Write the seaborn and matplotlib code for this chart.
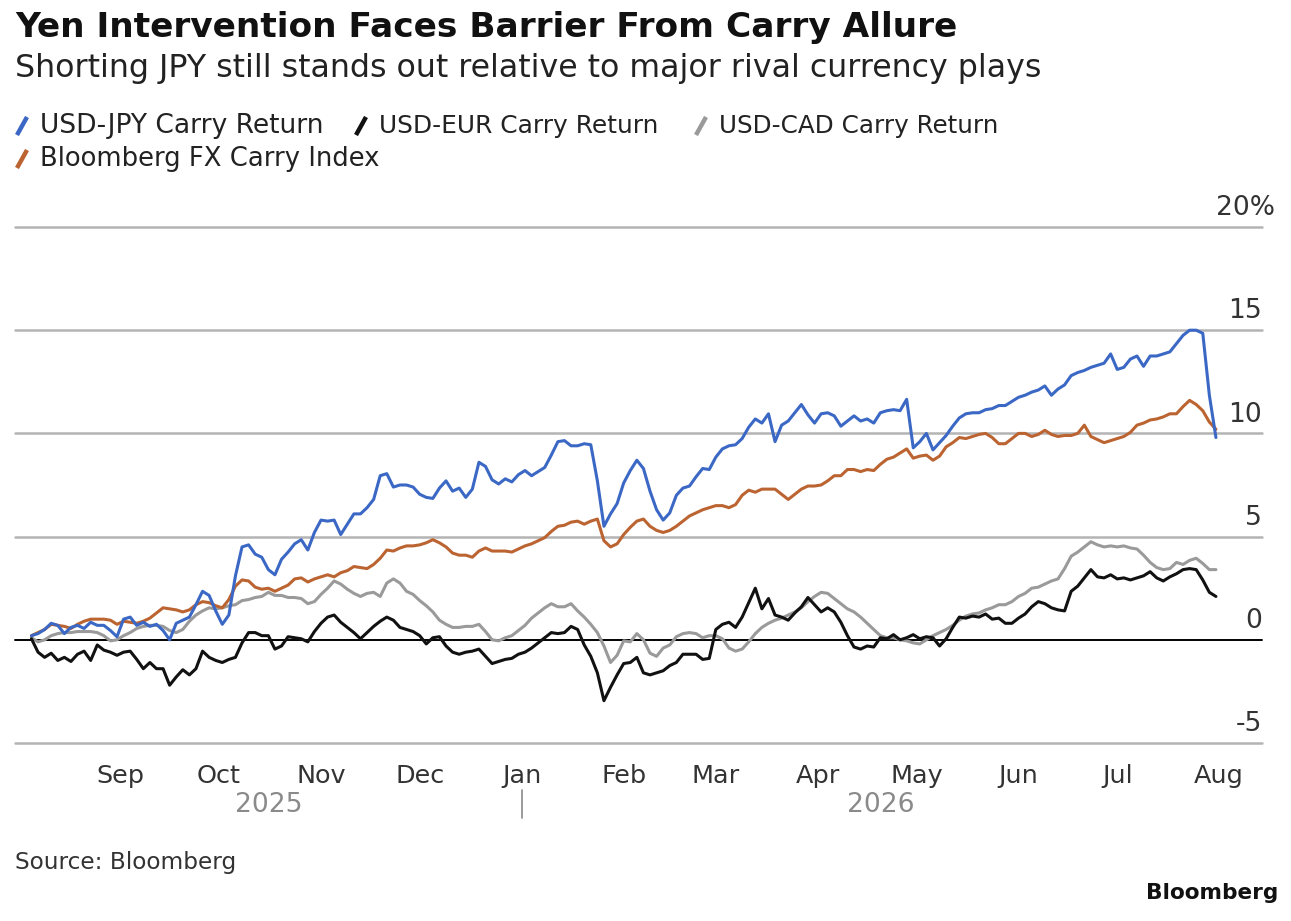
import numpy as np
import pandas as pd
import matplotlib
matplotlib.use("Agg")
import matplotlib.pyplot as plt
import seaborn as sns
from matplotlib.lines import Line2D
from matplotlib.transforms import blended_transform_factory

# ---------------- data (every 2 days) ----------------
dates = pd.date_range("2025-08-05", periods=181, freq="2D")

usd_jpy = [0.2, 0.3, 0.5, 0.8, 0.7, 0.3, 0.6, 0.7, 0.55, 0.85,
           0.7, 0.7, 0.45, 0.15, 1.0, 1.1, 0.7, 0.85, 0.65, 0.75,
           0.45, 0.0, 0.8, 0.95, 1.1, 1.7, 2.35, 2.15, 1.4, 0.75,
           1.2, 3.1, 4.5, 4.6, 4.15, 4.0,
           3.4, 3.15, 3.9, 4.25, 4.65, 4.85, 4.35, 5.2, 5.8, 5.75,
           5.8, 5.1, 5.6, 6.1, 6.1, 6.4, 6.8, 7.95, 8.05, 7.4,
           7.5, 7.5, 7.4, 7.05, 6.9, 6.85, 7.35, 7.7, 7.2, 7.35,
           6.9, 7.3, 8.6, 8.4, 7.75, 7.55,
           7.8, 7.65, 8.0, 8.2, 7.95, 8.15, 8.35, 8.95, 9.6, 9.65,
           9.4, 9.4, 9.5, 9.45, 7.7, 5.5, 6.1, 6.6, 7.6, 8.2,
           8.7, 8.3, 7.2, 6.3, 5.8, 6.15, 7.0, 7.35, 7.45, 7.9,
           8.3, 8.25, 8.85, 9.25, 9.4, 9.45,
           9.75, 10.3, 10.7, 10.5, 10.95, 9.6, 10.4, 10.6, 11.0, 11.4,
           10.9, 10.5, 10.95, 11.0, 10.85, 10.35, 10.6, 10.85, 10.6, 10.7,
           10.5, 11.0, 11.1, 11.15, 11.1, 11.65, 9.3, 9.6, 10.0, 9.2,
           9.55, 9.9, 10.35, 10.75, 10.95, 11.0,
           11.0, 11.15, 11.2, 11.35, 11.35, 11.55, 11.75, 11.85, 12.0, 12.1,
           12.3, 11.85, 12.15, 12.35, 12.8, 12.95, 13.05, 13.2, 13.3, 13.4,
           13.85, 13.1, 13.2, 13.6, 13.75, 13.25, 13.75, 13.75, 13.85, 13.95,
           14.35, 14.75, 15.0, 15.0, 14.85, 11.85, 9.8]

usd_eur = [0.05, -0.6, -0.85, -0.65, -1.0, -0.85, -1.05, -0.7, -0.55, -1.0,
           -0.25, -0.5, -0.6, -0.75, -0.6, -0.55, -0.95, -1.4, -1.1, -1.4,
           -1.4, -2.2, -1.8, -1.45, -1.7, -1.4, -0.55, -0.85, -1.0, -1.1,
           -0.95, -0.85, -0.15, 0.35, 0.35, 0.2,
           0.2, -0.45, -0.3, 0.15, 0.1, 0.05, -0.1, 0.4, 0.8, 1.1,
           1.2, 0.85, 0.6, 0.35, 0.05, 0.35, 0.65, 0.9, 1.1, 0.95,
           0.6, 0.5, 0.4, 0.2, -0.2, 0.1, 0.15, -0.3, -0.6, -0.7,
           -0.6, -0.55, -0.45, -0.8, -1.15, -1.05,
           -0.95, -0.9, -0.7, -0.6, -0.4, -0.15, 0.1, 0.35, 0.3, 0.35,
           0.65, 0.5, -0.25, -0.8, -1.6, -2.95, -2.3, -1.7, -1.15, -1.1,
           -0.85, -1.6, -1.7, -1.6, -1.5, -1.25, -1.1, -0.7, -0.7, -0.7,
           -0.95, -0.9, 0.5, 0.75, 0.85, 0.6,
           1.1, 1.8, 2.5, 1.5, 2.0, 1.2, 1.1, 0.95, 1.3, 1.6,
           2.05, 1.7, 1.35, 1.55, 1.35, 0.85, 0.2, -0.35, -0.45, -0.3,
           -0.35, 0.1, 0.05, 0.25, 0.0, 0.1, 0.25, 0.05, 0.15, 0.1,
           -0.3, 0.05, 0.6, 1.1, 1.05, 1.15,
           1.1, 1.25, 1.0, 1.05, 0.8, 0.8, 1.05, 1.25, 1.6, 1.85,
           1.75, 1.55, 1.45, 1.4, 2.35, 2.6, 3.0, 3.4, 3.05, 3.0,
           3.15, 2.95, 3.0, 2.9, 3.0, 3.1, 3.3, 3.0, 2.85, 3.05,
           3.2, 3.4, 3.45, 3.4, 2.9, 2.3, 2.1]

usd_cad = [0.1, -0.1, 0.0, 0.2, 0.3, 0.35, 0.35, 0.4, 0.4, 0.4,
           0.35, 0.2, -0.05, 0.0, 0.2, 0.35, 0.55, 0.65, 0.7, 0.7,
           0.65, 0.45, 0.35, 0.5, 0.9, 1.2, 1.4, 1.55, 1.5, 1.55,
           1.65, 1.7, 1.9, 1.95, 2.05, 2.1,
           2.3, 2.15, 2.15, 2.05, 2.05, 2.0, 1.75, 1.85, 2.2, 2.5,
           2.85, 2.7, 2.45, 2.25, 2.1, 2.25, 2.3, 2.1, 2.75, 2.95,
           2.75, 2.35, 2.2, 1.9, 1.65, 1.35, 0.95, 0.75, 0.6, 0.6,
           0.65, 0.65, 0.75, 0.4, 0.0, -0.05,
           0.1, 0.2, 0.45, 0.7, 1.05, 1.3, 1.55, 1.75, 1.6, 1.6,
           1.75, 1.4, 1.1, 0.75, 0.35, -0.3, -1.1, -0.75, -0.05, -0.1,
           0.3, 0.0, -0.65, -0.8, -0.4, -0.25, 0.15, 0.3, 0.35, 0.3,
           0.1, 0.2, 0.2, 0.05, -0.4, -0.55,
           -0.45, -0.1, 0.3, 0.6, 0.8, 0.95, 1.05, 1.2, 1.35, 1.55,
           1.85, 2.1, 2.3, 2.25, 2.0, 1.75, 1.5, 1.35, 1.1, 0.8,
           0.5, 0.2, 0.1, 0.1, 0.0, -0.05, -0.15, -0.2, 0.0, 0.2,
           0.35, 0.5, 0.7, 0.95, 1.15, 1.25,
           1.3, 1.45, 1.55, 1.7, 1.7, 1.85, 2.1, 2.25, 2.5, 2.55,
           2.7, 2.85, 2.95, 3.45, 4.05, 4.25, 4.5, 4.75, 4.6, 4.5,
           4.55, 4.5, 4.55, 4.45, 4.4, 4.1, 3.75, 3.5, 3.4, 3.45,
           3.75, 3.65, 3.85, 3.95, 3.7, 3.4, 3.4]

bbg_fx_carry = [0.2, 0.35, 0.5, 0.75, 0.7, 0.65, 0.55, 0.75, 0.9, 1.0,
                1.0, 1.0, 0.95, 0.75, 0.9, 0.85, 0.8, 0.9, 1.05, 1.3,
                1.55, 1.5, 1.45, 1.35, 1.45, 1.7, 1.85, 1.8, 1.65, 1.55,
                1.95, 2.6, 2.9, 2.85, 2.55, 2.45,
                2.5, 2.35, 2.5, 2.65, 2.95, 3.0, 2.8, 2.95, 3.05, 3.15,
                3.05, 3.25, 3.35, 3.55, 3.5, 3.45, 3.65, 3.95, 4.35, 4.3,
                4.45, 4.55, 4.55, 4.6, 4.7, 4.85, 4.7, 4.5, 4.2, 4.1,
                4.1, 4.0, 4.3, 4.45, 4.3, 4.3,
                4.3, 4.25, 4.4, 4.55, 4.65, 4.8, 4.95, 5.25, 5.5, 5.55,
                5.7, 5.75, 5.6, 5.75, 5.85, 4.8, 4.5, 4.65, 5.1, 5.45,
                5.75, 5.85, 5.5, 5.3, 5.2, 5.3, 5.5, 5.75, 6.0, 6.15,
                6.3, 6.4, 6.5, 6.5, 6.4, 6.55,
                7.0, 7.25, 7.15, 7.3, 7.3, 7.3, 7.05, 6.8, 7.05, 7.3,
                7.45, 7.45, 7.5, 7.7, 7.95, 7.95, 8.25, 8.25, 8.15, 8.25,
                8.2, 8.5, 8.75, 8.85, 9.05, 9.25, 8.8, 8.9, 8.95, 8.7,
                8.9, 9.35, 9.55, 9.8, 9.75, 9.85,
                9.95, 10.0, 9.8, 9.5, 9.5, 9.75, 10.0, 10.0, 9.85, 9.95,
                10.15, 9.95, 9.85, 9.9, 9.9, 10.0, 10.4, 9.85, 9.7, 9.55,
                9.65, 9.75, 9.85, 10.05, 10.4, 10.5, 10.65, 10.7, 10.8, 10.95,
                10.95, 11.3, 11.6, 11.4, 11.1, 10.55, 10.2]

series_names = ["USD-JPY Carry Return", "USD-EUR Carry Return",
                "USD-CAD Carry Return", "Bloomberg FX Carry Index"]
series_colors = ["#3b68c5", "#111111", "#9a9a9a", "#bb6431"]

month_ticks = pd.date_range("2025-09-01", "2026-08-01", freq="MS")
month_labels = ["Sep", "Oct", "Nov", "Dec", "Jan", "Feb", "Mar",
                "Apr", "May", "Jun", "Jul", "Aug"]
year_labels = ["2025", "2026"]
year_label_dates = [pd.Timestamp("2025-10-16"), pd.Timestamp("2026-04-20")]
year_break = pd.Timestamp("2026-01-01")

y_ticks = [-5, 0, 5, 10, 15, 20]
y_tick_labels = ["-5", "0", "5", "10", "15", "20%"]

title = "Yen Intervention Faces Barrier From Carry Allure"
subtitle = "Shorting JPY still stands out relative to major rival currency plays"
source = "Source: Bloomberg"
brand = "Bloomberg"

# ---------------- style ----------------
sns.set_style("white")
plt.rcParams["font.family"] = ["DejaVu Sans"]

W, H = 1291, 921
fig = plt.figure(figsize=(W / 100, H / 100), dpi=100)
fig.patch.set_facecolor("white")


def fx(x):
    return x / W


def fy(y):
    return 1 - y / H


ax = fig.add_axes([fx(15), fy(743), (1262 - 15) / W, (743 - 227) / H])

df = pd.DataFrame({"date": dates,
                   series_names[0]: usd_jpy,
                   series_names[1]: usd_eur,
                   series_names[2]: usd_cad,
                   series_names[3]: bbg_fx_carry})
long_df = df.melt(id_vars="date", var_name="series", value_name="value")
palette = dict(zip(series_names, series_colors))
draw_order = [series_names[2], series_names[1], series_names[3], series_names[0]]

sns.lineplot(data=long_df, x="date", y="value", hue="series",
             hue_order=draw_order, palette=palette, linewidth=2.2,
             legend=False, ax=ax, zorder=3)

ax.set_xlim(pd.Timestamp("2025-07-31"), pd.Timestamp("2026-08-14"))
ax.set_ylim(-5, 20)
ax.set_xlabel("")
ax.set_ylabel("")
for s in ax.spines.values():
    s.set_visible(False)

for v in y_ticks:
    ax.axhline(v, color="black" if v == 0 else "#b4b4b4",
               lw=1.4 if v == 0 else 1.8, zorder=1 if v != 0 else 2,
               clip_on=False)
ax.set_yticks(y_ticks)
ax.tick_params(axis="y", length=0, labelleft=False, labelright=False)

ax.set_xticks(month_ticks)
ax.set_xticklabels(month_labels)
ax.tick_params(axis="x", direction="out", length=10, width=1.2,
               color="#9a9a9a", pad=5, labelcolor="#333333")

# y labels inside, above the gridlines
ylab_texts = []
ytrans = blended_transform_factory(ax.transAxes, ax.transData)
for v, lab in zip(y_ticks, y_tick_labels):
    dx = 9.5 if lab.endswith("%") else 0
    t = ax.annotate(lab, xy=(1, v), xycoords=ytrans, xytext=(dx, 8.5),
                    textcoords="offset points", ha="right", va="baseline",
                    color="#333333", fontsize=16, annotation_clip=False)
    ylab_texts.append(t)

# year labels and separator
xtrans = blended_transform_factory(ax.transData, ax.transAxes)
year_texts = []
for d, lab in zip(year_label_dates, year_labels):
    t = ax.text(d, (743 - 805) / 516, lab, transform=xtrans, ha="center",
                va="center", color="#8a8a8a", fontsize=16)
    year_texts.append(t)
ax.plot([year_break, year_break], [(743 - 790) / 516, (743 - 818) / 516],
        transform=xtrans, color="#8a8a8a", lw=1.2, clip_on=False)

# header texts
t_title = fig.text(fx(15), fy(28), title, ha="left", va="center",
                   fontsize=22, fontweight="bold", color="#111111")
t_sub = fig.text(fx(15), fy(68), subtitle, ha="left", va="center",
                 fontsize=20, color="#222222")

# legend (manual, slash markers)
legend_pos = [(16, 126), (355, 126), (695, 126), (16, 159)]
legend_width = [285, 280, 280, 340]
leg_texts = []
for (lx, ly), name, col in zip(legend_pos, series_names, series_colors):
    fig.add_artist(Line2D([fx(lx + 1), fx(lx + 11)], [fy(ly + 9), fy(ly - 9)],
                          transform=fig.transFigure, color=col, lw=3.2,
                          solid_capstyle="butt"))
    t = fig.text(fx(lx + 24), fy(ly), name, ha="left", va="center",
                 fontsize=16, color="#222222")
    leg_texts.append(t)

t_src = fig.text(fx(15), fy(862), source, ha="left", va="center",
                 fontsize=16, color="#333333")
t_brand = fig.text(fx(1278), fy(893), brand, ha="right", va="center",
                   fontsize=16, fontweight="bold", color="#111111")

# fit text widths to the reference layout
fig.canvas.draw()
r = fig.canvas.get_renderer()


def fit(t, width_px):
    bb = t.get_window_extent(renderer=r)
    t.set_fontsize(t.get_fontsize() * width_px / bb.width)


fit(t_title, 940)
fit(t_sub, 1025)
for t, w in zip(leg_texts, legend_width):
    fit(t, w)
fit(t_src, 222)
fit(t_brand, 133)
body = leg_texts[0].get_fontsize()
for lab in ax.get_xticklabels():
    lab.set_fontsize(body * 0.96)
for t in year_texts + ylab_texts:
    t.set_fontsize(body)

fig.savefig("out.png", dpi=100, facecolor="white")
